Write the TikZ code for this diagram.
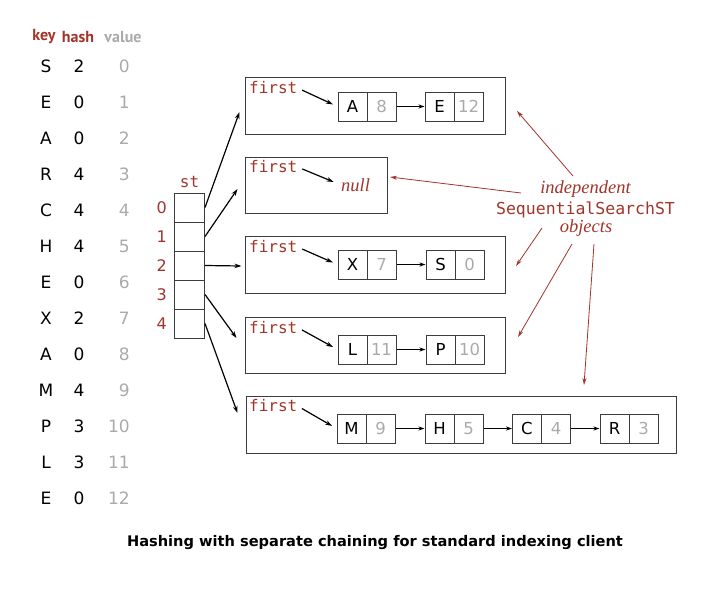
\documentclass[tikz,border=0pt]{standalone}
\usepackage{fontspec}
\setmainfont{DejaVu Sans}
\newfontfamily\monof{DejaVu Sans Mono}
\newfontfamily\serf{Liberation Serif}
\newfontfamily\capf{PT Sans}
\usetikzlibrary{arrows.meta}
\definecolor{bookred}{RGB}{162,52,42}
\definecolor{valgray}{RGB}{170,170,170}
\definecolor{linegray}{RGB}{60,60,60}
\begin{document}
\begin{tikzpicture}[x=1pt,y=-1pt,
  hdr/.style={font=\capf\bfseries\fontsize{16}{18}\selectfont, inner sep=0},
  tkey/.style={font=\fontsize{17}{20}\selectfont, inner sep=0, text=black},
  tval/.style={font=\fontsize{17}{20}\selectfont, inner sep=0, text=valgray, anchor=east},
  idx/.style={font=\fontsize{16}{18}\selectfont, inner sep=0, text=bookred, anchor=east},
  acell/.style={draw=linegray, line width=1pt, minimum width=30pt, minimum height=29pt, inner sep=0},
  kcell/.style={draw=linegray, line width=1pt, minimum width=29pt, minimum height=29pt, inner sep=0, font=\fontsize{16.5}{18}\selectfont},
  vcell/.style={kcell, text=valgray},
  objbox/.style={draw=linegray, line width=1pt, inner sep=0},
  firstlbl/.style={font=\monof\fontsize{16}{18}\selectfont, text=bookred, anchor=west, inner sep=0},
  ptr/.style={line width=1.2pt, -{Stealth[length=7pt,width=4.5pt]}},
  link/.style={line width=1.2pt, -{Stealth[length=6pt,width=4pt]}},
  note/.style={draw=bookred, line width=0.8pt, -{Stealth[length=7pt,width=4pt]}},
  notetxt/.style={text=bookred, inner sep=0},
]
\useasboundingbox (0,0) rectangle (702,590);

% header
\node[hdr, text=bookred] (hkey) at (44,37) {key};
\node[hdr, text=bookred] (hhash) at (78,37) {hash};
\node[hdr, text=valgray] (hval) at (123,37) {value};

% table rows
\foreach \k/\h/\v [count=\i from 0] in {S/2/0,E/0/1,A/0/2,R/4/3,C/4/4,H/4/5,E/0/6,X/2/7,A/0/8,M/4/9,P/3/10,L/3/11,E/0/12}{
  \node[tkey] (tk\i) at (46,{66+36*\i}) {\k};
  \node[tkey] (th\i) at (79,{66+36*\i}) {\h};
  \node[tval] (tv\i) at (130,{66+36*\i}) {\v};
}

% st array
\node[font=\monof\fontsize{16}{18}\selectfont, text=bookred, inner sep=0] (stl) at (189.5,182) {st};
\foreach \i in {0,...,4}{
  \node[acell] (c\i) at (189.5,{207.5+29*\i}) {};
  \node[idx] (ix\i) at (167,{207.5+29*\i}) {\i};
}

% object boxes
\node[objbox, minimum width=260pt, minimum height=57pt] (b0) at (375,105.5) {};
\node[objbox, minimum width=142pt, minimum height=56pt] (b1) at (316,185) {};
\node[objbox, minimum width=260pt, minimum height=57pt] (b2) at (375,264.5) {};
\node[objbox, minimum width=260pt, minimum height=56pt] (b3) at (375,345) {};
\node[objbox, minimum width=430pt, minimum height=57pt] (b4) at (461,424.5) {};

% first labels
\node[firstlbl] (f0) at (249,88) {first};
\node[firstlbl] (f1) at (249,167) {first};
\node[firstlbl] (f2) at (249,247) {first};
\node[firstlbl] (f3) at (249,327.5) {first};
\node[firstlbl] (f4) at (249,406) {first};

% box 0
\node[kcell] (n0a) at (352.5,106.5) {A};
\node[vcell] (n0av) at (381.5,106.5) {8};
\node[kcell] (n0b) at (439.5,106.5) {E};
\node[vcell] (n0bv) at (468.5,106.5) {12};
% box 1
\node[font=\serf\itshape\fontsize{18.5}{20}\selectfont, text=bookred, anchor=west, inner sep=0] (null) at (341,185) {null};
% box 2
\node[kcell] (n2a) at (352.5,264.5) {X};
\node[vcell] (n2av) at (381.5,264.5) {7};
\node[kcell] (n2b) at (440.5,264.5) {S};
\node[vcell] (n2bv) at (469.5,264.5) {0};
% box 3
\node[kcell] (n3a) at (352.5,349.5) {L};
\node[vcell] (n3av) at (381.5,349.5) {11};
\node[kcell] (n3b) at (440.5,349.5) {P};
\node[vcell] (n3bv) at (469.5,349.5) {10};
% box 4
\node[kcell] (n4a) at (351.5,428.5) {M};
\node[vcell] (n4av) at (380.5,428.5) {9};
\node[kcell] (n4b) at (439.5,428.5) {H};
\node[vcell] (n4bv) at (468.5,428.5) {5};
\node[kcell] (n4c) at (527,428.5) {C};
\node[vcell] (n4cv) at (556,428.5) {4};
\node[kcell] (n4d) at (614.5,428.5) {R};
\node[vcell] (n4dv) at (643.5,428.5) {3};

% first pointers
\draw[ptr, shorten <=5pt, shorten >=5pt] (f0.east) -- (n0a.west);
\draw[ptr, shorten <=5pt, shorten >=8pt] (f1.east) -- (null.west);
\draw[ptr, shorten <=5pt, shorten >=5pt] (f2.east) -- (n2a.west);
\draw[ptr, shorten <=5pt, shorten >=5pt] (f3.east) -- (n3a.west);
\draw[ptr, shorten <=5pt, shorten >=5pt] (f4.east) -- (n4a.west);

% links
\draw[link] (n0av.east) -- (n0b.west);
\draw[link] (n2av.east) -- (n2b.west);
\draw[link] (n3av.east) -- (n3b.west);
\draw[link] (n4av.east) -- (n4b.west);
\draw[link] (n4bv.east) -- (n4c.west);
\draw[link] (n4cv.east) -- (n4d.west);

% array pointers
\draw[ptr] (c0.east) -- ([shift={(-5,6.5)}]b0.west);
\draw[ptr] (c1.east) -- ([shift={(-7,4)}]b1.west);
\draw[ptr] (c2.east) -- ([shift={(-3,1.5)}]b2.west);
\draw[ptr] (c3.east) -- ([shift={(-8,-7)}]b3.west);
\draw[ptr] (c4.east) -- ([shift={(-8,-11.5)}]b4.west);

% annotation
\node[notetxt, font=\serf\itshape\fontsize{18.5}{20}\selectfont] (an1) at (585.5,189) {independent};
\node[notetxt, font=\monof\fontsize{16.5}{18}\selectfont] (an2) at (585.5,210) {SequentialSearchST};
\node[notetxt, font=\serf\itshape\fontsize{18.5}{20}\selectfont] (an3) at (586,228) {objects};
\coordinate (r1s) at (573,176);
\coordinate (r1e) at (517,111);
\coordinate (r2s) at (521,193);
\coordinate (r2e) at (390,177);
\coordinate (r3s) at (542,228);
\coordinate (r3e) at (516,266);
\coordinate (r4s) at (572,244);
\coordinate (r4e) at (518,337);
\coordinate (r5s) at (594,244);
\coordinate (r5e) at (584,385);
\draw[note] (r1s) -- (r1e);
\draw[note] (r2s) -- (r2e);
\draw[note] (r3s) -- (r3e);
\draw[note] (r4s) -- (r4e);
\draw[note] (r5s) -- (r5e);

% caption
\node[font=\bfseries\fontsize{14.6}{17}\selectfont, inner sep=0] (cap) at (375,543) {Hashing with separate chaining for standard indexing client};
\end{tikzpicture}
\end{document}
